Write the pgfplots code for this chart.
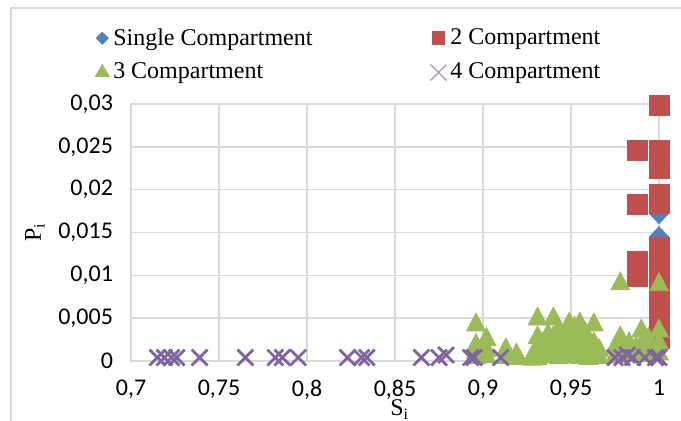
\documentclass[border=0pt]{standalone}
\usepackage{fontspec}
\setmainfont{Liberation Serif}
\newfontfamily\tickfont{Carlito}
\usepackage{pgfplots}
\pgfplotsset{compat=1.18}
\definecolor{cblue}{HTML}{4F81BD}
\definecolor{cred}{HTML}{C0504D}
\definecolor{cgreen}{HTML}{9BBB59}
\definecolor{cpurple}{HTML}{8064A2}
\definecolor{gridgray}{HTML}{D9D9D9}
\pgfplotsset{legend image code/.code={\draw[#1] plot coordinates {(0cm,0cm)};}}
\begin{document}
\begin{tikzpicture}
\useasboundingbox (0,0) rectangle (340.5pt,210.5pt);
\draw[color=gridgray, line width=0.75pt] (5.5pt,0) -- (5.5pt,206.5pt) -- (340.5pt,206.5pt);
\begin{axis}[
  at={(65.5pt,30pt)}, anchor=south west, scale only axis,
  width=264pt, height=128.5pt,
  xmin=0.7, xmax=1, ymin=0, ymax=0.03,
  xtick={0.7,0.75,0.8,0.85,0.9,0.95,1},
  xticklabels={{0,7},{0,75},{0,8},{0,85},{0,9},{0,95},{1}},
  ytick={0,0.005,0.01,0.015,0.02,0.025,0.03},
  yticklabels={{0},{0,005},{0,01},{0,015},{0,02},{0,025},{0,03}},
  scaled ticks=false,
  major tick length=0pt,
  grid=major,
  grid style={draw=gridgray, line width=0.75pt},
  axis line style={draw=gridgray, line width=0.75pt},
  tick label style={font=\tickfont\fontsize{12}{14}\selectfont},
  xticklabel style={inner sep=0pt, yshift=-9.5pt},
  yticklabel style={xshift=-5.5pt},
  xlabel={S\textsubscript{i}}, ylabel={P\textsubscript{i}},
  label style={font=\fontsize{12}{14}\selectfont},
  xlabel style={at={(axis description cs:0.509,-0.214)}, anchor=base, inner sep=0pt},
  ylabel style={at={(axis description cs:-0.182,0.5)}, anchor=center},
  clip=false,
  legend columns=2,
  legend cell align=left,
  legend style={draw=none, fill=none, at={(axis description cs:0,1)}, anchor=north west,
    xshift=-21pt, yshift=42pt, font=\fontsize{12}{14}\selectfont,
    row sep=3.5pt, nodes={inner sep=2pt},
    /tikz/every even column/.append style={column sep=57pt}},
]
% Single Compartment
\addplot[only marks, mark=diamond*, mark size=5pt, color=cblue, mark options={xscale=1.27}, forget plot]
coordinates {(1,0.0172) (1,0.0145) (1,0.0120) (1,0.0080) (1,0.0040)};
% 2 Compartment
\addplot[only marks, mark=square*, mark size=5pt, color=cred, forget plot]
coordinates {
(1,0.0298) (1,0.0246) (1,0.0235) (1,0.0225) (1,0.0195) (1,0.0184)
(1,0.0133) (1,0.0123) (1,0.0113) (1,0.0103) (1,0.0093) (1,0.0083)
(1,0.0073) (1,0.0063) (1,0.0053) (1,0.0043) (1,0.0033) (1,0.0026)
(0.988,0.0246) (0.988,0.0183) (0.988,0.0116) (0.988,0.0099)
};
% 3 Compartment
\addplot[only marks, mark=triangle*, mark size=5.4pt, color=cgreen, mark options={yscale=1.1}, forget plot]
coordinates {
(0.896,0.0042) (0.896,0.0018) (0.896,0.0010) (0.896,0.0004)
(0.902,0.0025) (0.902,0.0012) (0.902,0.0005)
(0.913,0.0013) (0.913,0.0004)
(0.919,0.0007) (0.919,0.0003)
(0.928,0.0005) (0.928,0.0002)
(0.931,0.0049) (0.931,0.0027) (0.931,0.0015) (0.931,0.0008) (0.931,0.0003)
(0.934,0.0020) (0.934,0.0010)
(0.937,0.0030) (0.937,0.0005)
(0.940,0.0049) (0.940,0.0027) (0.940,0.0012)
(0.943,0.0035) (0.943,0.0018) (0.943,0.0004)
(0.946,0.0025) (0.946,0.0010)
(0.949,0.0043) (0.949,0.0030) (0.949,0.0015) (0.949,0.0005)
(0.952,0.0038) (0.952,0.0020) (0.952,0.0008)
(0.955,0.0043) (0.955,0.0025) (0.955,0.0012) (0.955,0.0004)
(0.958,0.0032) (0.958,0.0015)
(0.960,0.0010) (0.960,0.0003)
(0.963,0.0042) (0.963,0.0020) (0.963,0.0008)
(0.966,0.0012) (0.966,0.0004)
(0.975,0.0015) (0.975,0.0005)
(0.978,0.0090) (0.978,0.0027) (0.978,0.0010)
(0.983,0.0020) (0.983,0.0006)
(0.987,0.0015)
(0.990,0.0035) (0.990,0.0018) (0.990,0.0006)
(0.994,0.0025) (0.994,0.0010)
(1.000,0.0089) (1.000,0.0035) (1.000,0.0020) (1.000,0.0008)
};
% 4 Compartment
\addplot[only marks, mark=x, mark size=5.6pt, color=cpurple, mark options={line width=1.4pt}, forget plot]
coordinates {
(0.715,0.0004) (0.719,0.0004) (0.723,0.0004) (0.726,0.0004) (0.739,0.0004)
(0.765,0.0004) (0.782,0.0004) (0.786,0.0004) (0.795,0.0004) (0.823,0.0004)
(0.831,0.0004) (0.834,0.0004) (0.865,0.0004) (0.875,0.0004) (0.879,0.0007)
(0.893,0.0004) (0.895,0.0004) (0.910,0.0004) (0.975,0.0004) (0.979,0.0004)
(0.982,0.0007) (0.985,0.0004) (0.992,0.0004) (0.998,0.0004) (1.000,0.0004)
};
\addlegendimage{only marks, mark=diamond*, mark size=3pt, color=cblue, mark options={xscale=1.33}}
\addlegendentry{Single Compartment}
\addlegendimage{only marks, mark=square*, mark size=3.2pt, color=cred}
\addlegendentry{2 Compartment}
\addlegendimage{only marks, mark=triangle*, mark size=4pt, color=cgreen}
\addlegendentry{3 Compartment}
\addlegendimage{only marks, mark=x, mark size=5.6pt, color=cpurple!70, mark options={line width=0.6pt}}
\addlegendentry{4 Compartment}
\end{axis}
\end{tikzpicture}
\end{document}
